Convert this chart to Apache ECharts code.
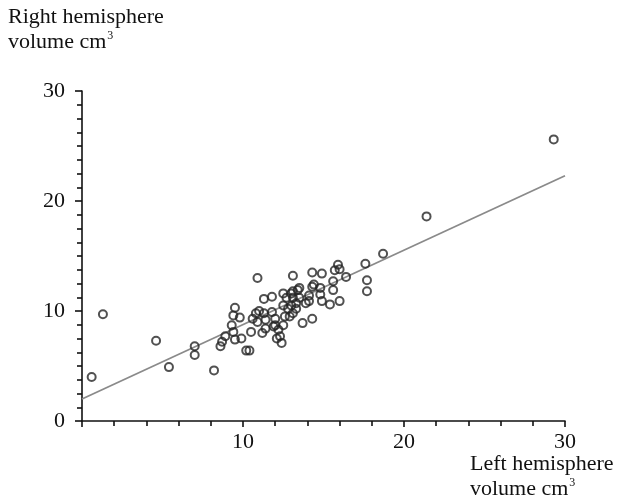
<!DOCTYPE html>
<html>
<head>
<meta charset="utf-8">
<script src="https://cdn.jsdelivr.net/npm/echarts@6/dist/echarts.min.js"></script>
<style>
  html, body { margin: 0; padding: 0; background: #fff; }
  #chart { width: 624px; height: 500px; }
</style>
</head>
<body>
<div id="chart"></div>
<script>
// left vs right hemisphere volume (cm3)
const leftVolume = [
  0.6, 1.3, 4.6, 5.4, 7.0, 7.0, 8.2, 8.6, 8.7, 8.9, 9.3, 9.4, 9.4, 9.5, 9.8, 9.5, 9.9, 10.2, 10.4,
  10.5, 10.6, 10.8, 10.9, 10.9, 11.2, 11.4, 11.4, 11.3, 11.3, 11.8, 11.8, 12.0, 12.0, 12.1, 12.4,
  12.5, 12.6, 12.5, 12.5, 12.7, 13.0, 13.0, 13.1, 13.1, 13.1, 13.1, 13.3, 13.3, 13.4, 13.5, 13.5,
  12.9, 13.7, 14.3, 13.9, 14.1, 14.1, 14.3, 14.4, 14.3, 14.8, 14.8, 14.9, 14.9, 15.4, 15.6, 15.6,
  15.7, 15.9, 16.0, 16.0, 16.4, 17.6, 17.7, 17.7, 18.7, 21.4, 29.3,
  12.3, 12.2, 11.9, 11.0, 12.8
]
const rightVolume = [
  4.0, 9.7, 7.3, 4.9, 6.8, 6.0, 4.6, 6.8, 7.2, 7.7, 8.7, 8.1, 9.6, 10.3, 9.4, 7.4, 7.5, 6.4, 6.4,
  8.1, 9.3, 9.8, 9.0, 13.0, 8.0, 8.4, 9.2, 9.8, 11.1, 11.3, 9.9, 9.3, 8.7, 7.5, 7.1,
  8.7, 9.5, 10.5, 11.6, 11.2, 11.6, 10.5, 9.8, 13.2, 11.8, 11.2, 10.7, 10.2, 11.9, 12.1, 11.2,
  9.5, 8.9, 9.3, 10.7, 10.9, 11.4, 12.2, 12.4, 13.5, 12.1, 11.5, 10.9, 13.4, 10.6, 12.7, 11.9,
  13.7, 14.2, 13.8, 10.9, 13.1, 14.3, 12.8, 11.8, 15.2, 18.6, 25.6,
  7.7, 8.3, 8.6, 10.0, 10.2
]
// regression line end points
const fitLeft = [0, 30]
const fitRight = [2.0, 22.3]

const axisTicks = [0, 10, 20, 30]

const font = "'Liberation Serif', 'Times New Roman', serif"

const chart = echarts.init(document.getElementById('chart'))

const points = leftVolume.map((x, i) => [x, rightVolume[i]])
const fitLine = fitLeft.map((x, i) => [x, fitRight[i]])

const axisTitle = (first) => ({
  text: '{t|' + first + '}\n{t|volume cm}{s|3}',
  rich: {
    t: { font: '22px ' + font, fill: '#111', lineHeight: 25 },
    s: { font: '12px ' + font, fill: '#111', lineHeight: 25, verticalAlign: 'top', padding: [0, 0, 0, 1] }
  }
})

chart.setOption({
  animation: false,
  textStyle: { fontFamily: font },
  grid: { left: 82, right: 59, top: 91, bottom: 79 },
  xAxis: {
    type: 'value',
    min: axisTicks[0],
    max: axisTicks[axisTicks.length - 1],
    interval: 10,
    axisLine: { show: true, onZero: false, lineStyle: { color: '#111', width: 1.6 } },
    axisTick: { show: true, length: 6, lineStyle: { color: '#111', width: 1.6 } },
    minorTick: { show: true, splitNumber: 5, length: 5, lineStyle: { color: '#111', width: 1.6 } },
    splitLine: { show: false },
    axisLabel: {
      showMinLabel: false,
      margin: 10,
      color: '#111',
      fontSize: 22,
      fontFamily: font
    }
  },
  yAxis: {
    type: 'value',
    min: axisTicks[0],
    max: axisTicks[axisTicks.length - 1],
    interval: 10,
    axisLine: { show: true, onZero: false, lineStyle: { color: '#111', width: 1.6 } },
    axisTick: { show: true, length: 7, lineStyle: { color: '#111', width: 1.6 } },
    minorTick: { show: true, splitNumber: 8, length: 5, lineStyle: { color: '#111', width: 1.6 } },
    splitLine: { show: false },
    axisLabel: {
      margin: 17,
      color: '#111',
      fontSize: 22,
      fontFamily: font
    }
  },
  graphic: [
    { type: 'text', left: 8, top: 6, style: axisTitle('Right hemisphere') },
    { type: 'text', left: 470, top: 453, style: axisTitle('Left hemisphere') }
  ],
  series: [
    {
      type: 'line',
      data: fitLine,
      showSymbol: false,
      symbol: 'none',
      lineStyle: { color: '#8a8a8a', width: 1.8 },
      z: 1
    },
    {
      type: 'scatter',
      data: points,
      symbol: 'circle',
      symbolSize: 8,
      itemStyle: { color: 'rgba(255,255,255,0)', borderColor: '#262626', borderWidth: 2 },
      z: 2
    }
  ]
})
</script>
</body>
</html>
